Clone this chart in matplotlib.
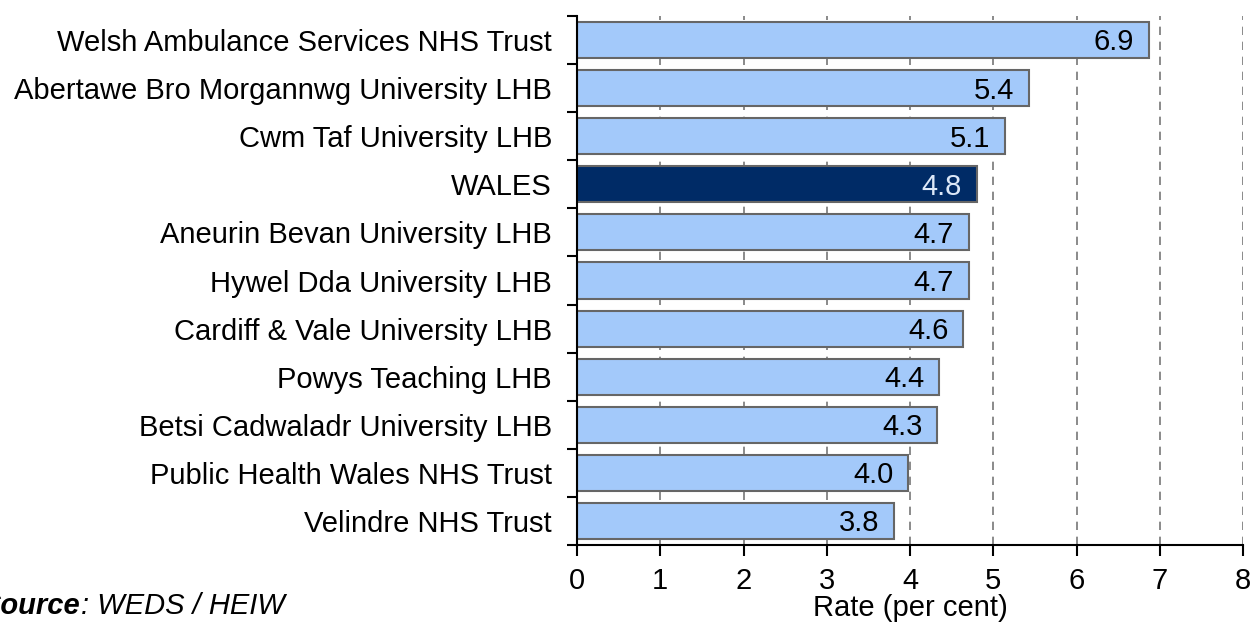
import matplotlib
matplotlib.use("Agg")
import matplotlib.pyplot as plt
from matplotlib.ticker import FixedLocator

plt.rcParams['font.family'] = ['Liberation Sans', 'DejaVu Sans']

# data (top to bottom)
orgs = [
    "Welsh Ambulance Services NHS Trust",
    "Abertawe Bro Morgannwg University LHB",
    "Cwm Taf University LHB",
    "WALES",
    "Aneurin Bevan University LHB",
    "Hywel Dda University LHB",
    "Cardiff & Vale University LHB",
    "Powys Teaching LHB",
    "Betsi Cadwaladr University LHB",
    "Public Health Wales NHS Trust",
    "Velindre NHS Trust",
]
rates = [6.87, 5.43, 5.14, 4.80, 4.71, 4.71, 4.64, 4.35, 4.33, 3.98, 3.81]
labels = ["6.9", "5.4", "5.1", "4.8", "4.7", "4.7", "4.6", "4.4", "4.3", "4.0", "3.8"]
x_ticks = [0, 1, 2, 3, 4, 5, 6, 7, 8]

light = "#a3c9fa"
dark = "#002b66"
fs = 21

fig = plt.figure(figsize=(12.52, 6.28), dpi=100)
ax = fig.add_axes([577 / 1252, 1 - 545 / 628, (1243 - 577) / 1252, (545 - 16) / 628])

ypos = list(range(len(orgs)))
colors = [dark if o == "WALES" else light for o in orgs]
ax.barh(ypos, rates, height=0.75, color=colors, edgecolor="#666666", linewidth=1.5, zorder=2)

for y, v, lab, o in zip(ypos, rates, labels, orgs):
    tc = "#dce8f8" if o == "WALES" else "black"
    ax.text(v - 0.18, y + 0.05, lab, ha="right", va="center", fontsize=fs, color=tc, zorder=3)

ax.set_ylim(len(orgs) - 0.5, -0.5)
ax.set_xlim(0, 8)
ax.set_xticks(x_ticks)
ax.set_xticklabels([str(t) for t in x_ticks], fontsize=fs)
ax.set_yticks(ypos)
ax.set_yticklabels(orgs, fontsize=fs)
ax.tick_params(axis="y", length=0, pad=18)
ax.yaxis.set_minor_locator(FixedLocator([y - 0.5 for y in range(len(orgs) + 1)]))
ax.tick_params(axis="y", which="minor", length=7, width=1.5, direction="out")
ax.tick_params(axis="x", length=8, width=1.5, direction="out", pad=8)

for x in x_ticks[1:]:
    ax.axvline(x, color="#777777", linestyle=(0, (5, 4)), linewidth=1.2, zorder=1)

ax.spines["top"].set_visible(False)
ax.spines["right"].set_visible(False)
ax.spines["left"].set_linewidth(1.5)
ax.spines["bottom"].set_linewidth(1.5)

ax.set_xlabel("Rate (per cent)", fontsize=fs, labelpad=-1)

src = fig.text(-18 / 1252, 1 - 614 / 628, "Source", fontsize=fs, fontweight="bold",
               fontstyle="italic", va="baseline")
ax.annotate(": WEDS / HEIW", xy=(1, 0), xycoords=src, va="bottom", ha="left",
            fontsize=fs, fontstyle="italic", annotation_clip=False)

fig.savefig("out.png", dpi=100)
